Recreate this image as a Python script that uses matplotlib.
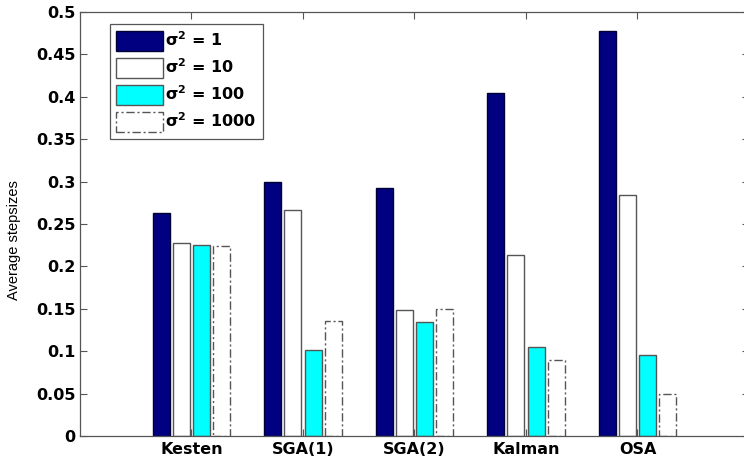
import matplotlib
matplotlib.use("Agg")
import matplotlib.pyplot as plt
import numpy as np
from matplotlib.patches import Patch

methods = ["Kesten", "SGA(1)", "SGA(2)", "Kalman", "OSA"]
series_labels = [r"$\mathbf{\sigma^2}$ = 1", r"$\mathbf{\sigma^2}$ = 10",
                 r"$\mathbf{\sigma^2}$ = 100", r"$\mathbf{\sigma^2}$ = 1000"]
var_1 = [0.263, 0.300, 0.293, 0.404, 0.478]
var_10 = [0.228, 0.267, 0.148, 0.213, 0.284]
var_100 = [0.225, 0.102, 0.135, 0.105, 0.095]
var_1000 = [0.224, 0.136, 0.150, 0.090, 0.049]
yticks = [0, 0.05, 0.1, 0.15, 0.2, 0.25, 0.3, 0.35, 0.4, 0.45, 0.5]
ytick_labels = ["0", "0.05", "0.1", "0.15", "0.2", "0.25", "0.3", "0.35", "0.4", "0.45", "0.5"]

series = [var_1, var_10, var_100, var_1000]
faces = ["#000080", "white", "#00ffff", "white"]
styles = ["-", "-", "-", (0, (6, 2, 1.5, 2))]
edge = "#555555"

fig = plt.figure(figsize=(7.44, 4.63), dpi=100)
ax = fig.add_axes([80 / 744, 1 - 436 / 463, 669 / 744, 424 / 463])

x = np.arange(1, len(methods) + 1)
step = 0.182
width = 0.152
for i, (vals, fc, ls) in enumerate(zip(series, faces, styles)):
    off = (i - 1.5) * step
    ax.bar(x + off, vals, width, color=fc, edgecolor="#000033" if i == 0 else edge,
           linewidth=1.0, linestyle=ls)

ax.set_xlim(0, 6)
ax.set_ylim(0, 0.5)
ax.set_xticks(x)
ax.set_xticklabels(methods)
ax.set_yticks(yticks)
ax.set_yticklabels(ytick_labels)

for lab in ax.get_xticklabels() + ax.get_yticklabels():
    lab.set_fontfamily("DejaVu Sans")
    lab.set_fontweight("bold")
    lab.set_fontsize(11.5)

ax.tick_params(axis="both", direction="in", length=5, width=0.8, color="#555555",
               top=True, right=True, labelcolor="black")
ax.tick_params(axis="x", pad=4)
ax.tick_params(axis="y", pad=3)
for s in ax.spines.values():
    s.set_color("#555555")
    s.set_linewidth(0.9)

fig.text(14.5 / 744, 1 - 240 / 463, "Average stepsizes", rotation=90,
         ha="center", va="center", fontsize=10.5, family="Liberation Sans")

handles = [Patch(facecolor=fc, edgecolor="#000033" if i == 0 else edge,
                 linewidth=1.0, linestyle=ls)
           for i, (fc, ls) in enumerate(zip(faces, styles))]
leg = ax.legend(handles, series_labels, loc="upper left",
                bbox_to_anchor=((110 - 80) / 669, (436 - 24) / 424),
                borderaxespad=0, fancybox=False, framealpha=1,
                handlelength=2.9, handleheight=1.6, handletextpad=0.15,
                labelspacing=0.4, borderpad=0.4,
                prop=dict(family="DejaVu Sans", weight="bold", size=11.5))
leg.get_frame().set_edgecolor("#555555")
leg.get_frame().set_linewidth(0.9)

fig.savefig("out.png", dpi=100)
